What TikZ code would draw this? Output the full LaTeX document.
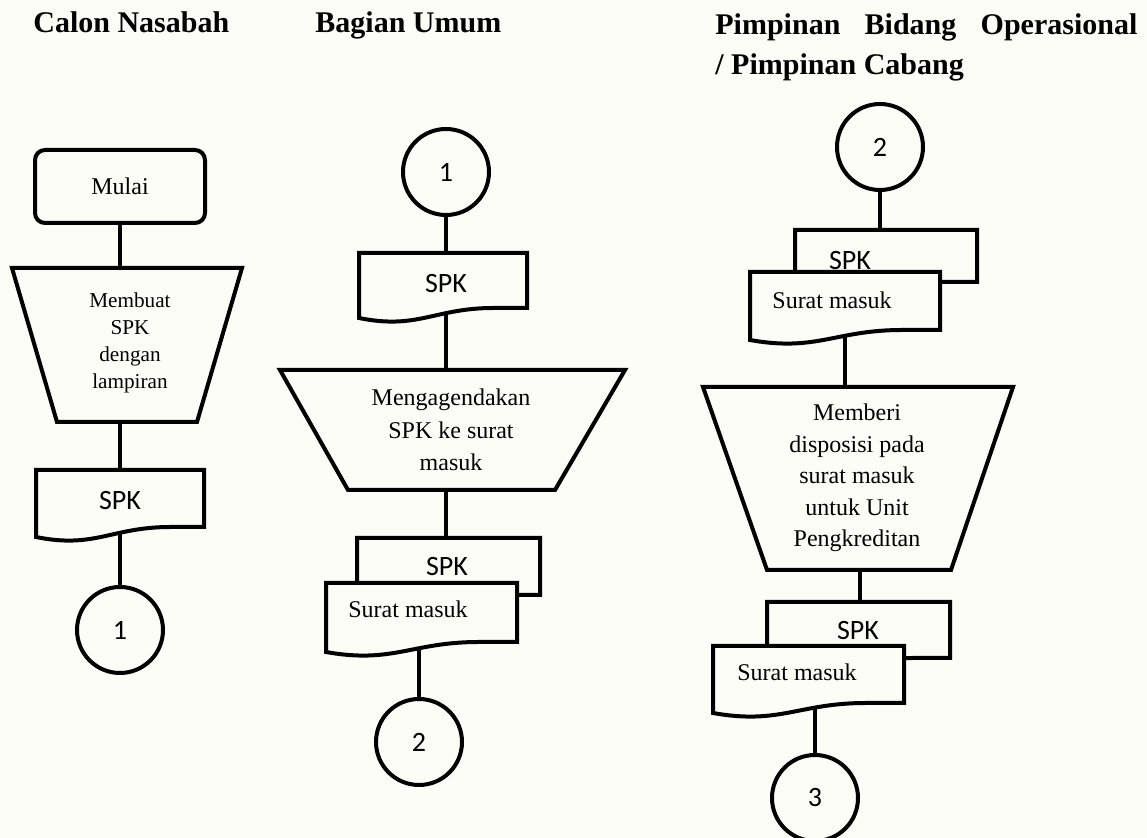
\documentclass[tikz,border=0pt]{standalone}
\usepackage{fontspec}
\setmainfont{Liberation Serif}
\newfontfamily\calfont{Carlito}
\usetikzlibrary{backgrounds}
\definecolor{bg}{RGB}{252,253,247}
\tikzset{
  ln/.style={line width=2pt, draw=black},
  shp/.style={ln, fill=bg},
  startbox/.style={shp, rounded corners=5pt, minimum width=85pt, minimum height=36.5pt, inner sep=0pt, font=\fontsize{12}{14}\selectfont},
  conn/.style={shp, circle, minimum size=43pt, inner sep=0pt, font=\calfont\fontsize{14}{16}\selectfont},
  head/.style={font=\bfseries\fontsize{15}{19}\selectfont, anchor=base west, inner sep=0pt},
  sm/.style={align=center, inner sep=0pt, font=\fontsize{10.6}{13.4}\selectfont},
  md/.style={align=center, inner sep=0pt, font=\fontsize{12}{16.2}\selectfont},
  mdb/.style={align=center, inner sep=0pt, font=\fontsize{12}{15.7}\selectfont},
  spk/.style={inner sep=0pt, font=\calfont\fontsize{14}{16}\selectfont},
  sur/.style={anchor=west, inner sep=0pt, font=\fontsize{12}{14}\selectfont},
}
% L R T BL BR
\newcommand\docshape[5]{%
  \filldraw[shp] (#1,#3) -- (#2,#3) -- (#2,#5) -- ({#1+0.8*(#2-#1)},#5)
    .. controls ({#1+0.45*(#2-#1)},#5) and ({#1+0.35*(#2-#1)},{#4+12}) .. (#1,#4) -- cycle;}
% TL TR T BL BR B
\newcommand\trapshape[6]{%
  \filldraw[shp] (#1,#3) -- (#2,#3) -- (#5,#6) -- (#4,#6) -- cycle;}
\begin{document}
\begin{tikzpicture}[x=0.5pt,y=-0.5pt]
\useasboundingbox (0,0) rectangle (1147,838);

% headers
\node[head] (h1) at (33,33) {Calon Nasabah};
\node[head] (h2) at (315,33) {Bagian Umum};
\node[head] (h3) at (715,35) {\makebox[211pt][s]{Pimpinan Bidang Operasional}};
\node[head] (h3b) at (715,75) {/ Pimpinan Cabang};

% column 1
\node[startbox] (mulai) at (120,186.5) {Mulai};
\trapshape{12}{242}{268}{57}{197}{422}
\node[sm] (t1) at (130,343) {Membuat\\SPK\\dengan\\lampiran};
\coordinate (t1n) at (120,268);
\coordinate (t1s) at (120,422);
\docshape{36}{204}{470}{537}{527}
\node[spk] (d1) at (120,501) {SPK};
\coordinate (d1n) at (120,470);
\coordinate (d1s) at (120,525);
\node[conn] (c1) at (120,630) {1};

% column 2
\node[conn] (c1b) at (446,172) {1};
\docshape{359}{527}{253}{318}{308}
\node[spk] (d2) at (446,284) {SPK};
\coordinate (d2n) at (446,253);
\coordinate (d2s) at (446,305);
\trapshape{280}{625}{370}{348}{555}{490}
\node[md] (t2) at (451,430) {Mengagendakan\\SPK ke surat\\masuk};
\coordinate (t2n) at (446,370);
\coordinate (t2s) at (446,490);
\docshape{357}{540}{538}{605}{595}
\docshape{326}{517}{583}{652}{642}
\node[spk] (d3) at (447,567) {SPK};
\node[sur] (s3) at (348,609) {Surat masuk};
\coordinate (d3n) at (446,538);
\coordinate (d3s) at (419,640);
\node[conn] (c2) at (419,742) {2};

% column 3
\node[conn] (c2b) at (880,147) {2};
\docshape{795}{977}{230}{292}{282}
\docshape{750}{940}{272}{340}{330}
\node[spk] (d4) at (850,261) {SPK};
\node[sur] (s4) at (772,300) {Surat masuk};
\coordinate (d4n) at (880,230);
\coordinate (d4s) at (845,330);
\trapshape{703}{1013}{387}{767}{951}{570}
\node[mdb] (t3) at (857,478) {Memberi\\disposisi pada\\surat masuk\\untuk Unit\\Pengkreditan};
\coordinate (t3n) at (845,387);
\coordinate (t3s) at (860,570);
\docshape{767}{950}{602}{668}{658}
\docshape{713}{904}{646}{713}{703}
\node[spk] (d5) at (858,631) {SPK};
\node[sur] (s5) at (737,672) {Surat masuk};
\coordinate (d5n) at (860,602);
\coordinate (d5s) at (815,700);
\node[conn] (c3) at (815,798) {3};

\begin{scope}[on background layer]
  \fill[bg] (0,0) rectangle (1147,838);
  \draw[ln] (mulai) -- (t1n);
  \draw[ln] (t1s) -- (d1n);
  \draw[ln] (d1s) -- (c1);
  \draw[ln] (c1b) -- (d2n);
  \draw[ln] (d2s) -- (t2n);
  \draw[ln] (t2s) -- (d3n);
  \draw[ln] (d3s) -- (c2);
  \draw[ln] (c2b) -- (d4n);
  \draw[ln] (d4s) -- (t3n);
  \draw[ln] (t3s) -- (d5n);
  \draw[ln] (d5s) -- (c3);
\end{scope}
\end{tikzpicture}
\end{document}
